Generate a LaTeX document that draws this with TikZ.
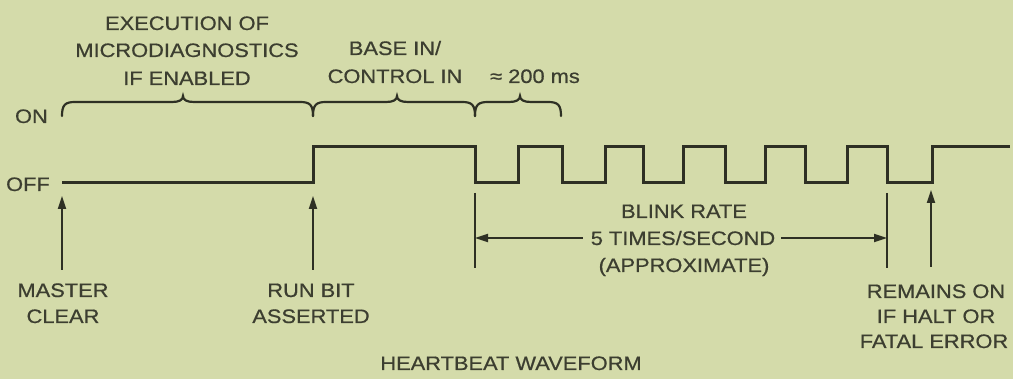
\documentclass[tikz,border=0pt]{standalone}
\usepackage{fontspec}
\setmainfont{Liberation Sans}[FakeStretch=1.12,FakeBold=0.6]
\usetikzlibrary{arrows.meta}
\definecolor{bgcol}{HTML}{D4DBAA}
\definecolor{inkcol}{HTML}{2E3024}
\definecolor{txtcol}{HTML}{3C3E30}
\newcommand{\mybrace}[3]{%
  \draw[bracestyle] (#1,116) .. controls (#1,105) and (#1+3,102) .. (#1+13,102)
    -- (#2-11,102) .. controls (#2-4,102) and (#2,100) .. (#2,96)
    .. controls (#2,100) and (#2+4,102) .. (#2+11,102)
    -- (#3-13,102) .. controls (#3-3,102) and (#3,105) .. (#3,116);}
\begin{document}
\begin{tikzpicture}[x=1pt,y=-1pt,
  lbl/.style={text=txtcol,inner sep=0pt,anchor=base,font=\fontsize{19.5}{26}\selectfont},
  wave/.style={draw=inkcol,line width=3pt,line join=miter},
  bracestyle/.style={draw=inkcol,line width=2.2pt,line cap=round},
  marker/.style={draw=inkcol,line width=1.8pt},
  uparrow/.style={marker,-{Triangle[length=13pt,width=8pt]}}]
\fill[bgcol] (0,0) rectangle (1013,379);
\useasboundingbox (0,0) rectangle (1013,379);
% labels top
\node[lbl] (ex1) at (187,30) {EXECUTION OF};
\node[lbl] (ex2) at (187,57) {MICRODIAGNOSTICS};
\node[lbl] (ex3) at (187,85) {IF ENABLED};
\node[lbl] (bi1) at (395,55) {BASE IN/};
\node[lbl] (bi2) at (395,83) {CONTROL IN};
\node[lbl] (ms) at (535,83) {≈ 200 ms};
\node[lbl,anchor=base east] (on) at (48,123) {ON};
\node[lbl,anchor=base east] (off) at (50,191) {OFF};
% braces
\mybrace{62}{183}{313}
\mybrace{313}{397}{475}
\mybrace{475}{520}{561}
% waveform
\draw[wave] (62,183) -- (313,183) -- (313,147) -- (475,147) -- (475,183)
  -- (518,183) -- (518,147) -- (562,147) -- (562,183)
  -- (605,183) -- (605,147) -- (643,147) -- (643,183)
  -- (683,183) -- (683,147) -- (725,147) -- (725,183)
  -- (765,183) -- (765,147) -- (805,147) -- (805,183)
  -- (847,183) -- (847,147) -- (887,147) -- (887,183)
  -- (932,183) -- (932,147) -- (1010,147);
% markers
\coordinate (mcb) at (62,270); \coordinate (mct) at (62,196);
\coordinate (rbb) at (313,270); \coordinate (rbt) at (313,196);
\coordinate (rob) at (931,267); \coordinate (rot) at (931,190);
\draw[uparrow] (mcb) -- (mct);
\draw[uparrow] (rbb) -- (rbt);
\draw[uparrow] (rob) -- (rot);
\coordinate (bl1) at (475,193); \coordinate (bl2) at (475,268);
\coordinate (br1) at (887,193); \coordinate (br2) at (887,268);
\draw[marker] (bl1) -- (bl2);
\draw[marker] (br1) -- (br2);
% bottom labels
\node[lbl] (mc1) at (63,297) {MASTER};
\node[lbl] (mc2) at (63,323) {CLEAR};
\node[lbl] (rb1) at (311,297) {RUN BIT};
\node[lbl] (rb2) at (311,323) {ASSERTED};
\node[lbl] (blk1) at (684,218) {BLINK RATE};
\node[lbl] (blk2) at (683,245) {5 TIMES/SECOND};
\node[lbl] (blk3) at (684,272) {(APPROXIMATE)};
\node[lbl] (rm1) at (936,298) {REMAINS ON};
\node[lbl] (rm2) at (936,323) {IF HALT OR};
\node[lbl] (rm3) at (934,348) {FATAL ERROR};
\node[lbl] (title) at (511,370) {HEARTBEAT WAVEFORM};
% blink rate arrows
\coordinate (lt) at (475,238); \coordinate (rt) at (887,238);
\draw[marker,-{Triangle[length=13pt,width=8pt]}] ([xshift=-8pt]blk2.west |- lt) -- (lt);
\draw[marker,-{Triangle[length=13pt,width=8pt]}] ([xshift=6pt]blk2.east |- rt) -- (rt);
\end{tikzpicture}
\end{document}
